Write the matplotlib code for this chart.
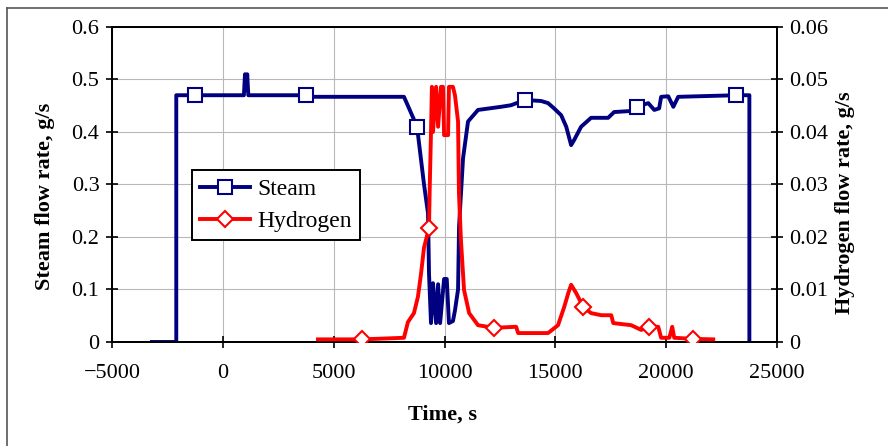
import matplotlib
matplotlib.use("Agg")
import matplotlib.pyplot as plt
from matplotlib.lines import Line2D

plt.rcParams['font.family'] = ['Liberation Serif', 'DejaVu Serif']

# steam flow rate (left axis), g/s
steam_t = [-3200, -2100, -2100, -1260, 950, 1000, 1050, 1100, 1150, 3750, 4000,
           6000, 8170, 8400, 8760, 9075, 9255, 9300, 9390, 9480, 9620, 9710,
           9800, 9980, 10100, 10200, 10380, 10470, 10610, 10655, 10835, 11060,
           11510, 12550, 13000, 13630, 14360, 14670, 14940, 15260, 15490, 15710,
           15850, 16160, 16610, 17380, 17650, 18420, 18690, 19190, 19460, 19680,
           19770, 20090, 20320, 20540, 23160, 23750, 23750]
steam_v = [0, 0, 0.47, 0.47, 0.47, 0.51, 0.48, 0.51, 0.47, 0.47, 0.467,
           0.467, 0.467, 0.445, 0.41, 0.30, 0.245, 0.13, 0.036, 0.112, 0.036, 0.11,
           0.036, 0.12, 0.12, 0.036, 0.04, 0.06, 0.10, 0.22, 0.35, 0.42,
           0.442, 0.448, 0.451, 0.461, 0.459, 0.455, 0.445, 0.432, 0.41, 0.375,
           0.385, 0.41, 0.427, 0.427, 0.438, 0.44, 0.448, 0.455, 0.442, 0.445,
           0.467, 0.468, 0.448, 0.467, 0.47, 0.47, 0]
steam_marks = [-1260, 3750, 8760, 13630, 18690, 23160]

# hydrogen flow rate (right axis), g/s
h2_t = [4290, 6280, 8170, 8350, 8620, 8800, 8940, 9075, 9300, 9330, 9390, 9430,
        9480, 9620, 9710, 9840, 9930, 9980, 10160, 10200, 10380, 10470, 10610,
        10650, 10740, 10880, 11110, 11510, 12230, 13230, 13320, 14670, 15120,
        15400, 15580, 15710, 15940, 16250, 16610, 17070, 17520, 17610, 18420,
        18870, 19230, 19640, 19770, 20140, 20270, 20360, 21220, 22120]
h2_v = [0.0005, 0.0005, 0.0008, 0.0038, 0.0055, 0.0086, 0.013, 0.018, 0.0217,
        0.029, 0.040, 0.0486, 0.040, 0.0486, 0.041, 0.0486, 0.0486, 0.0394,
        0.0394, 0.0486, 0.0486, 0.047, 0.042, 0.0284, 0.0194, 0.0099, 0.0055,
        0.0032, 0.0027, 0.0029, 0.0017, 0.0017, 0.0032, 0.0067, 0.0093, 0.0109,
        0.0093, 0.0067, 0.0055, 0.0051, 0.0051, 0.0036, 0.0032, 0.0023, 0.0029,
        0.0029, 0.0008, 0.0008, 0.0029, 0.0008, 0.0006, 0.0005]
h2_marks = [6280, 9300, 12230, 16250, 19230, 21220]

navy = '#000080'
red = '#ff0000'

fig = plt.figure(figsize=(8.88, 4.46), dpi=100)
ax = fig.add_axes([0.1261, 0.2332, 0.749, 0.7063])
ax2 = ax.twinx()

ax.plot(steam_t, steam_v, color=navy, lw=2.8, marker='s', ms=10, mfc='white',
        mec=navy, mew=1.5, markevery=[steam_t.index(x) for x in steam_marks],
        zorder=3)
ax2.plot(h2_t, h2_v, color=red, lw=2.8, marker='D', ms=8, mfc='white',
         mec=red, mew=1.5, markevery=[h2_t.index(x) for x in h2_marks],
         zorder=3)

ax.set_xlim(-5000, 25000)
ax.set_ylim(0, 0.6)
ax2.set_ylim(0, 0.06)
ax.set_xticks(range(-5000, 25001, 5000))
ax.set_yticks([0, 0.1, 0.2, 0.3, 0.4, 0.5, 0.6])
ax.set_yticklabels(['0', '0.1', '0.2', '0.3', '0.4', '0.5', '0.6'])
ax2.set_yticks([0, 0.01, 0.02, 0.03, 0.04, 0.05, 0.06])
ax2.set_yticklabels(['0', '0.01', '0.02', '0.03', '0.04', '0.05', '0.06'])
ax.set_xticklabels(['\u22125000', '0', '5000', '10000', '15000', '20000', '25000'])

ax.grid(True, color='#b8b8b8', lw=0.8)
ax.set_axisbelow(True)
for a in (ax, ax2):
    for s in a.spines.values():
        s.set_linewidth(1.4)
ax.tick_params(axis='both', direction='inout', length=8, width=1.2, labelsize=16)
ax.tick_params(axis='y', pad=5)
ax.tick_params(axis='x', pad=12)
ax2.tick_params(axis='y', direction='inout', length=8, width=1.2, labelsize=16, pad=5)

fig.text(45 / 888, 1 - 196 / 446, 'Steam flow rate, g/s', rotation=90,
         ha='center', va='center', fontsize=16, fontweight='bold')
fig.text(845 / 888, 1 - 203 / 446, 'Hydrogen flow rate, g/s', rotation=90,
         ha='center', va='center', fontsize=16, fontweight='bold')
fig.text(442 / 888, 1 - 415 / 446, 'Time, s', ha='center', va='center',
         fontsize=16, fontweight='bold')

handles = [Line2D([], [], color=navy, lw=2.8, marker='s', ms=10, mfc='white',
                  mec=navy, mew=1.5),
           Line2D([], [], color=red, lw=2.8, marker='D', ms=8, mfc='white',
                  mec=red, mew=1.5)]
leg = ax.legend(handles, ['Steam', 'Hydrogen'], loc='upper left',
                bbox_to_anchor=(0.1203, 0.546), borderaxespad=0, fontsize=17,
                fancybox=False, framealpha=1, edgecolor='black',
                handlelength=2.1, handletextpad=0.3, labelspacing=0.45,
                borderpad=0.35)
leg.get_frame().set_linewidth(1.4)

# outer frame lines
fig.add_artist(Line2D([7 / 888, 7 / 888], [0, 1 - 8 / 446], color='#555555', lw=1.2))
fig.add_artist(Line2D([7 / 888, 1], [1 - 8 / 446, 1 - 8 / 446], color='#555555', lw=1.2))

fig.savefig('out.png', dpi=100)
